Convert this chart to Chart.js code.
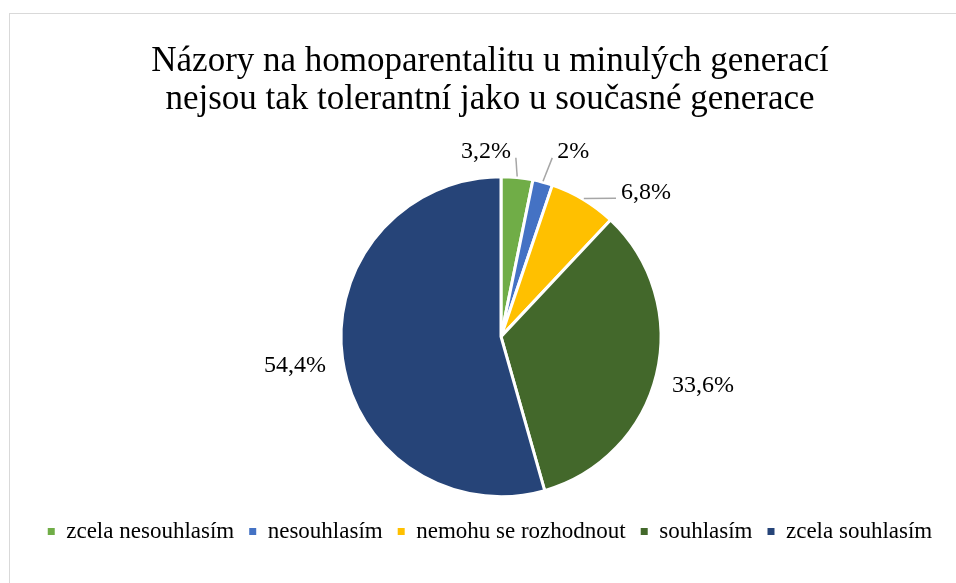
<!DOCTYPE html>
<html>
<head>
<meta charset="utf-8">
<script src="https://cdn.jsdelivr.net/npm/chart.js@4/dist/chart.umd.min.js"></script>
<style>
  html, body { margin: 0; padding: 0; background: #fff; }
  #wrap { position: relative; width: 956px; height: 583px; }
  #frame { position: absolute; left: 9px; top: 13px; right: -10px; bottom: -10px; border: 1px solid #d9d9d9; }
  canvas { position: absolute; left: 0; top: 0; }
</style>
</head>
<body>
<div id="wrap">
  <div id="frame"></div>
  <canvas id="chart" width="956" height="583"></canvas>
</div>
<script>
const categories = ['zcela nesouhlasím', 'nesouhlasím', 'nemohu se rozhodnout', 'souhlasím', 'zcela souhlasím']
const values = [3.2, 2, 6.8, 33.6, 54.4]
const valueLabels = ['3,2%', '2%', '6,8%', '33,6%', '54,4%']
const colors = ['#70AD47', '#4472C4', '#FFC000', '#43682B', '#264478']

const serif = "'Liberation Serif', 'Times New Roman', serif"

// nudge the small labels away from each other, like the original
const labelShift = [[-36, 22], [18, 16], [38, 34], [0, 0], [0, 0]]

const outsideLabels = {
  id: 'outsideLabels',
  afterLayout(chart) {
    // pie sits a bit right of the title/legend centre
    chart.chartArea.left += 11
    chart.chartArea.right += 11
  },
  afterDatasetsDraw(chart) {
    const ctx = chart.ctx
    const arcs = chart.getDatasetMeta(0).data
    ctx.save()
    ctx.font = '24px ' + serif
    ctx.textAlign = 'center'
    ctx.textBaseline = 'middle'
    arcs.forEach((arc, i) => {
      const mid = (arc.startAngle + arc.endAngle) / 2
      const r = arc.outerRadius
      const cos = Math.cos(mid), sin = Math.sin(mid)
      const lx = arc.x + cos * (r + 48) + labelShift[i][0]
      const ly = arc.y + sin * (r + 48) + labelShift[i][1]
      const text = valueLabels[i]
      const w = ctx.measureText(text).width
      if (labelShift[i][0] || labelShift[i][1]) {
        const sx = arc.x + cos * (r + 1)
        const sy = arc.y + sin * (r + 1)
        const ex = Math.min(Math.max(sx, lx - w / 2 - 5), lx + w / 2 + 5)
        const ey = Math.min(Math.max(sy, ly - 12), ly + 6)
        ctx.strokeStyle = '#a6a6a6'
        ctx.lineWidth = 1.5
        ctx.beginPath()
        ctx.moveTo(sx, sy)
        ctx.lineTo(ex, ey)
        ctx.stroke()
      }
      ctx.fillStyle = '#000'
      ctx.fillText(text, lx, ly)
    })
    ctx.restore()
  }
}

new Chart(document.getElementById('chart'), {
  type: 'pie',
  data: {
    labels: categories,
    datasets: [{
      data: values,
      backgroundColor: colors,
      borderColor: '#fff',
      borderWidth: 3
    }]
  },
  options: {
    responsive: false,
    animation: false,
    radius: 160,
    layout: { padding: { left: 24, right: 0, top: 0, bottom: 30 } },
    plugins: {
      title: {
        display: true,
        text: ['Názory na homoparentalitu u minulých generací', 'nejsou tak tolerantní jako u současné generace'],
        color: '#000',
        font: { family: serif, size: 35, weight: 'normal', lineHeight: 1.09 },
        padding: { top: 43, bottom: 49 }
      },
      legend: {
        position: 'bottom',
        labels: {
          color: '#000',
          font: { family: serif, size: 23 },
          usePointStyle: true,
          pointStyle: 'rect',
          boxWidth: 7,
          boxHeight: 7,
          padding: 15,
          generateLabels(chart) {
            const items = Chart.overrides.pie.plugins.legend.labels.generateLabels(chart)
            items.forEach(it => { it.lineWidth = 0; it.strokeStyle = it.fillStyle })
            return items
          }
        }
      },
      tooltip: { enabled: false }
    }
  },
  plugins: [outsideLabels]
})
</script>
</body>
</html>
